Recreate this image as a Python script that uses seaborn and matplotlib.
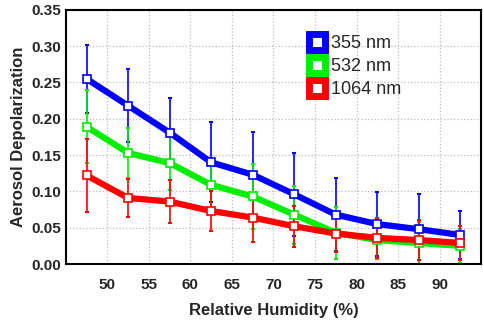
import numpy as np
import pandas as pd
import matplotlib
matplotlib.use("Agg")
import matplotlib.pyplot as plt
from matplotlib.lines import Line2D
import seaborn as sns

# Relative humidity bins (bin centres, %)
rh = [47.5, 52.5, 57.5, 62.5, 67.5, 72.5, 77.5, 82.5, 87.5, 92.5]

# Mean aerosol depolarization per wavelength
dep_355 = [0.255, 0.218, 0.181, 0.140, 0.123, 0.096, 0.068, 0.055, 0.048, 0.040]
dep_532 = [0.189, 0.153, 0.139, 0.109, 0.093, 0.068, 0.043, 0.033, 0.029, 0.025]
dep_1064 = [0.122, 0.091, 0.086, 0.073, 0.064, 0.052, 0.042, 0.036, 0.033, 0.029]

# Standard deviations (error bars)
err_355 = [0.047, 0.050, 0.047, 0.055, 0.059, 0.057, 0.050, 0.044, 0.048, 0.033]
err_532 = [0.050, 0.034, 0.037, 0.035, 0.045, 0.040, 0.036, 0.026, 0.029, 0.023]
err_1064 = [0.050, 0.026, 0.030, 0.028, 0.033, 0.028, 0.026, 0.027, 0.028, 0.024]

labels = ["355 nm", "532 nm", "1064 nm"]
colors = ["#0000ff", "#00ee00", "#ff0000"]

df = pd.DataFrame({
    "rh": rh * 3,
    "dep": dep_355 + dep_532 + dep_1064,
    "err": err_355 + err_532 + err_1064,
    "wl": [l for l in labels for _ in rh],
})

sns.set_style("white")
plt.rcParams["font.family"] = ["Liberation Sans", "DejaVu Sans"]
plt.rcParams["font.weight"] = "bold"

fig = plt.figure(figsize=(4.84, 3.28), dpi=100)
ax = fig.add_axes([0.136, 0.195, 0.858, 0.775])

for lab, col in zip(labels, colors):
    sub = df[df["wl"] == lab]
    ax.errorbar(sub["rh"], sub["dep"], yerr=sub["err"], fmt="none",
                ecolor=col, elinewidth=1.2, capsize=1.5, capthick=1.5, zorder=2)
    sns.lineplot(data=sub, x="rh", y="dep", ax=ax, color=col, linewidth=4.5,
                 marker="s", markersize=6, markerfacecolor="white",
                 markeredgecolor=col, markeredgewidth=1.2, zorder=3)

ax.set_xlim(45, 95)
ax.set_ylim(0, 0.35)
ax.set_xticks(np.arange(50, 91, 5))
ax.set_yticks(np.arange(0, 0.351, 0.05))
ax.set_yticklabels([f"{v:.2f}" for v in np.arange(0, 0.351, 0.05)])
ax.tick_params(axis="both", labelsize=11, direction="in", length=3)
for t in ax.get_xticklabels() + ax.get_yticklabels():
    t.set_fontweight("bold")
ax.tick_params(axis="x", pad=10)
ax.grid(True, color="#bbbbbb", linestyle=":", linewidth=0.9)
for s in ax.spines.values():
    s.set_color("black")
    s.set_linewidth(1.5)

ax.set_xlabel("Relative Humidity (%)", fontsize=12, fontweight="bold", labelpad=8)
ax.set_ylabel("Aerosol Depolarization", fontsize=12, fontweight="bold", labelpad=4)

handles = [Line2D([], [], linestyle="none", marker="s", markersize=12,
                  markerfacecolor="white", markeredgecolor=c, markeredgewidth=5)
           for c in colors]
leg = ax.legend(handles, labels, loc="upper left", bbox_to_anchor=(0.57, 0.93),
                frameon=False, fontsize=13, handlelength=0.8, handletextpad=0.4,
                labelspacing=0.35, borderaxespad=0)
for t in leg.get_texts():
    t.set_fontweight("normal")

fig.savefig("out.png", dpi=100, facecolor="white")
